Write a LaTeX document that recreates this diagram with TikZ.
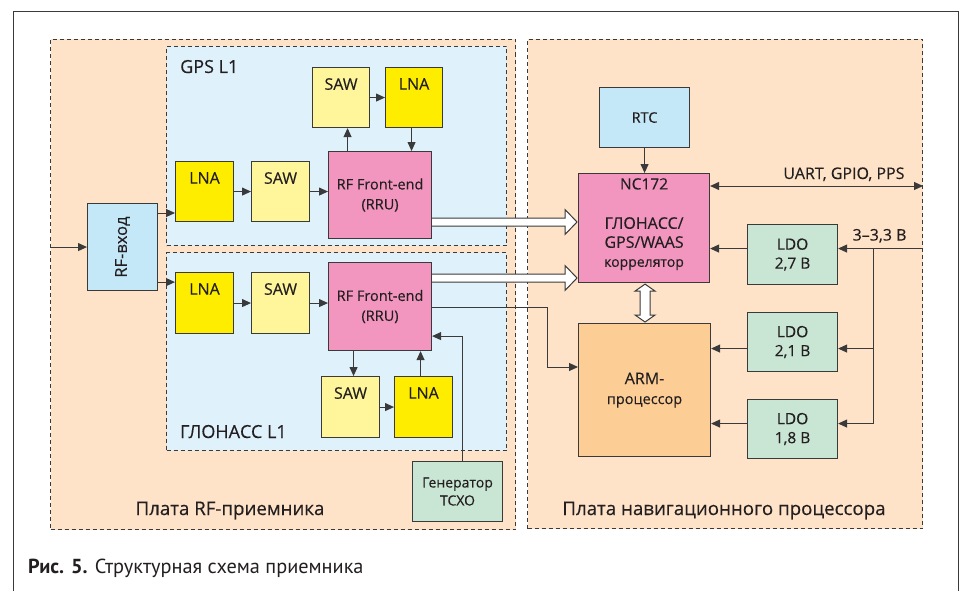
\documentclass[tikz,border=0pt]{standalone}
\usepackage{fontspec}
\setmainfont[FakeBold=0.3]{Open Sans}
\newfontfamily\capfont{PT Sans}
\usetikzlibrary{arrows.meta,calc}
\definecolor{linec}{HTML}{3A3A3A}
\definecolor{board}{HTML}{FEE3C8}
\definecolor{innerb}{HTML}{DFF1FB}
\definecolor{bluebox}{HTML}{C5E8F8}
\definecolor{lnay}{HTML}{FFED00}
\definecolor{sawy}{HTML}{FFF59B}
\definecolor{pinkb}{HTML}{F296BF}
\definecolor{greenb}{HTML}{C9E5D3}
\definecolor{armb}{HTML}{FDCD96}
\definecolor{txt}{HTML}{231F20}
\begin{document}
\begin{tikzpicture}[x=1pt,y=-1pt,
  box/.style={draw=linec, line width=1.1pt, inner sep=0pt, anchor=north west, align=center, text=txt, font=\fontsize{14.5}{20}\selectfont},
  dashbox/.style={draw=linec, line width=1pt, dash pattern=on 4pt off 3pt, anchor=north west, inner sep=0pt},
  conn/.style={draw=linec, line width=1pt, -{Triangle[length=9pt,width=8pt]}},
  conntwo/.style={draw=linec, line width=1pt, {Triangle[length=9pt,width=8pt]}-{Triangle[length=9pt,width=8pt]}},
  hollow/.style={draw=linec, line width=1pt, fill=white},
  toplbl/.style={anchor=north, inner sep=0pt, yshift=-11pt, text=txt, font=\fontsize{16}{18}\selectfont},
  grp/.style={anchor=base west, inner sep=0pt, font=\fontsize{18}{20}\selectfont, text=txt},
  brd/.style={anchor=base, inner sep=0pt, font=\fontsize{18.7}{21}\selectfont, text=txt},
  small/.style={inner sep=0pt, font=\fontsize{15}{18}\selectfont, text=txt},
]
\useasboundingbox (0,0) rectangle (960,591);
\fill[white] (0,0) rectangle (960,591);
\draw[linec, line width=1pt] (13,591) -- (13,12) -- (958,12) -- (958,591);

% boards
\node[dashbox, fill=board, minimum width=465pt, minimum height=490pt] (rfboard) at (50,39) {};
\node[dashbox, fill=board, minimum width=395pt, minimum height=489pt] (navboard) at (527,39) {};
\node[dashbox, fill=innerb, minimum width=340pt, minimum height=199pt] (gps) at (166,46) {};
\node[dashbox, fill=innerb, minimum width=340pt, minimum height=198pt] (glo) at (166,252) {};

\node[grp] (gpslbl) at (180,73) {GPS L1};
\node[grp] (glolbl) at (180,438) {ГЛОНАСС L1};
\node[brd] (rflbl) at (230,515) {Плата RF-приемника};
\node[brd] (navlbl) at (724,515) {Плата навигационного процессора};

% GPS chain
\node[box, fill=sawy, minimum width=57pt, minimum height=60pt, label={[toplbl]north:SAW}] (gsaw2) at (312,67) {};
\node[box, fill=lnay, minimum width=57pt, minimum height=60pt, label={[toplbl]north:LNA}] (glna2) at (385,67) {};
\node[box, fill=lnay, minimum width=58pt, minimum height=60pt, label={[toplbl]north:LNA}] (glna1) at (175,161) {};
\node[box, fill=sawy, minimum width=58pt, minimum height=60pt, label={[toplbl]north:SAW}] (gsaw1) at (251,161) {};
\node[box, fill=pinkb, minimum width=103pt, minimum height=87pt] (grf) at (328,151) {RF Front-end\\(RRU)};
\node[box, fill=bluebox, minimum width=70pt, minimum height=87pt] (rfin) at (87,203) {};
\node[small, rotate=90, font=\fontsize{16.5}{18}\selectfont] (rfintxt) at (rfin.center) {RF-вход};

% GLONASS chain
\node[box, fill=lnay, minimum width=58pt, minimum height=61pt, label={[toplbl]north:LNA}] (rlna1) at (175,272) {};
\node[box, fill=sawy, minimum width=58pt, minimum height=61pt, label={[toplbl]north:SAW}] (rsaw1) at (251,272) {};
\node[box, fill=pinkb, minimum width=103pt, minimum height=88pt] (rrf) at (328,262) {RF Front-end\\(RRU)};
\node[box, fill=sawy, minimum width=58pt, minimum height=61pt, label={[toplbl]north:SAW}] (rsaw2) at (321,376) {};
\node[box, fill=lnay, minimum width=58pt, minimum height=61pt, label={[toplbl]north:LNA}] (rlna2) at (394,376) {};
\node[box, fill=greenb, minimum width=90pt, minimum height=60pt, font=\fontsize{14}{18}\selectfont] (tcxo) at (412,461) {Генератор\\TCXO};

% navigation board
\node[box, fill=bluebox, minimum width=90pt, minimum height=60pt] (rtc) at (599,87) {RTC};
\node[box, fill=pinkb, minimum width=131pt, minimum height=109pt] (nc) at (578,173) {};
\node[small, anchor=north, font=\fontsize{15.5}{18}\selectfont] (nctop) at ([yshift=-5pt]nc.north) {NC172};
\node[small, align=center, anchor=north, font=\fontsize{16}{19}\selectfont] (nctxt) at ([yshift=-44pt]nc.north) {ГЛОНАСС/\\GPS/WAAS\\{\fontsize{14}{19}\selectfont коррелятор}};
\node[box, fill=armb, minimum width=132pt, minimum height=133pt] (arm) at (578,323) {{\fontsize{16}{20}\selectfont ARM-}\\процессор};
\node[box, fill=greenb, minimum width=90pt, minimum height=60pt, font=\fontsize{15.5}{19}\selectfont] (ldo27) at (747,224) {LDO\\2,7 В};
\node[box, fill=greenb, minimum width=90pt, minimum height=59pt, font=\fontsize{15.5}{19}\selectfont] (ldo21) at (747,312) {LDO\\2,1 В};
\node[box, fill=greenb, minimum width=90pt, minimum height=59pt, font=\fontsize{15.5}{19}\selectfont] (ldo18) at (747,399) {LDO\\1,8 В};

% connectors RF board
\draw[conn] (rfboard.west |- rfin.west) -- (rfin.west);
\draw[conn] ([yshift=-10pt]rfin.north east) -- ([yshift=-10pt]rfin.north east -| glna1.west);
\draw[conn] ([yshift=9pt]rfin.south east) -- ([yshift=9pt]rfin.south east -| rlna1.west);
\draw[conn] (glna1.east) -- (gsaw1.west);
\draw[conn] (gsaw1.east) -- (gsaw1.east -| grf.west);
\draw[conn] ([xshift=6.5pt]gsaw2.south |- grf.north) -- ([xshift=6.5pt]gsaw2.south);
\draw[conn] (gsaw2.east) -- (glna2.west);
\draw[conn] ([xshift=-2.5pt]glna2.south) -- ([xshift=-2.5pt]glna2.south |- grf.north);
\draw[conn] (rlna1.east) -- (rsaw1.west);
\draw[conn] (rsaw1.east) -- (rsaw1.east -| rrf.west);
\draw[conn] ([xshift=3pt]rsaw2.north |- rrf.south) -- ([xshift=3pt]rsaw2.north);
\draw[conn] (rsaw2.east) -- (rlna2.west);
\draw[conn] ([xshift=-3pt]rlna2.north) -- ([xshift=-3pt]rlna2.north |- rrf.south);
\draw[conn] ([xshift=5pt]tcxo.north) |- ([yshift=15pt]rrf.south east);

% hollow arrows
\coordinate (h1s) at ([yshift=-71pt]grf.north east);
\coordinate (h1e) at (h1s -| nc.west);
\draw[hollow] ($(h1s)+(0,-4)$) -- ($(h1e)+(-13,-4)$) -- ($(h1e)+(-13,-12.5)$) -- ($(h1e)+(-1,0)$) -- ($(h1e)+(-13,12.5)$) -- ($(h1e)+(-13,4)$) -- ($(h1s)+(0,4)$);
\coordinate (h2s) at ([yshift=-16pt]rrf.north east);
\coordinate (h2e) at (h2s -| nc.west);
\draw[hollow] ($(h2s)+(0,-4)$) -- ($(h2e)+(-13,-4)$) -- ($(h2e)+(-13,-12.5)$) -- ($(h2e)+(-1,0)$) -- ($(h2e)+(-13,12.5)$) -- ($(h2e)+(-13,4)$) -- ($(h2s)+(0,4)$);
\coordinate (v1) at ([xshift=1pt]nc.south);
\coordinate (v2) at (v1 |- arm.north);
\draw[hollow] ($(v1)+(0,1)$) -- ($(v1)+(-10,8)$) -- ($(v1)+(-5,8)$) -- ($(v2)+(-5,-8)$) -- ($(v2)+(-10,-8)$) -- ($(v2)+(0,-1)$) -- ($(v2)+(10,-8)$) -- ($(v2)+(5,-8)$) -- ($(v1)+(5,8)$) -- ($(v1)+(10,8)$) -- cycle;

\draw[conn] ([yshift=-45pt]rrf.north east) -| ($(arm.north west)+(-31,44)$) -- ($(arm.north west)+(0,44)$);

% navigation connectors
\draw[conn] (rtc.south) -- (rtc.south |- nc.north);
\draw[conntwo] ([yshift=-13pt]nc.north east) -- ([yshift=-13pt]nc.north east -| navboard.east)
  node[pos=1, anchor=base east, xshift=-18pt, yshift=7pt, small, font=\fontsize{16}{18}\selectfont] (uartlbl) {UART, GPIO, PPS};
\coordinate (pin) at ([yshift=6pt]ldo27.east -| navboard.east);
\coordinate (btop) at ([yshift=6pt]$(ldo27.east)+(35,0)$);
\draw[conn] (pin) -- ([yshift=6pt]ldo27.east)
  node[pos=0, anchor=base east, xshift=-16pt, yshift=8pt, small, font=\fontsize{16}{18}\selectfont] (vlbl) {3\textendash 3,3 В};
\draw[conn] (btop) |- ([yshift=-6.5pt]ldo21.east);
\draw[conn] (btop) |- ([yshift=5.5pt]ldo18.east);
\draw[conn] ([yshift=6pt]ldo27.west) -- ([yshift=6pt]ldo27.west -| nc.east);
\draw[conn] ([yshift=-6.5pt]ldo21.west) -- ([yshift=-6.5pt]ldo21.west -| arm.east);
\draw[conn] ([yshift=5.5pt]ldo18.west) -- ([yshift=5.5pt]ldo18.west -| arm.east);

% caption
\node[anchor=base west, inner sep=0pt, text=txt, font=\capfont\fontsize{20.3}{22}\selectfont] (cap) at (28,573) {\textbf{Рис. 5.} Структурная схема приемника};
\end{tikzpicture}
\end{document}
